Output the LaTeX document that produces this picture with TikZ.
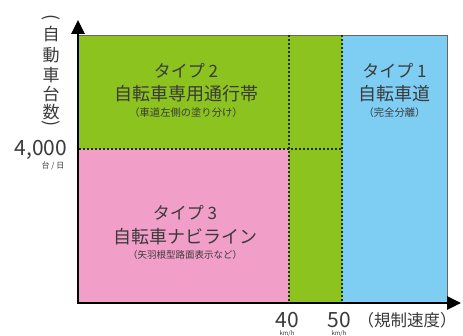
\documentclass[tikz,border=0pt]{standalone}
\usepackage{fontspec}
\setmainfont{Noto Sans CJK JP}
\usetikzlibrary{arrows.meta}
\definecolor{tgreen}{HTML}{8CC31E}
\definecolor{tpink}{HTML}{F19EC9}
\definecolor{tblue}{HTML}{7ECEF4}
\definecolor{txt}{HTML}{3A3A3A}
\definecolor{dotc}{HTML}{1E330A}
\tikzset{
  divider/.style={dotc, line width=1.6pt, dash pattern=on 2pt off 2pt},
  axisline/.style={black, line width=2.6pt, -{Triangle[length=14pt,width=13pt]}},
  lbl/.style={inner sep=0pt, text=txt},
  fs/.style={font=\fontsize{#1}{#1}\selectfont}
}
\begin{document}
\begin{tikzpicture}[x=1pt,y=-1pt]
\useasboundingbox (0,0) rectangle (463,336);
\fill[white] (0,0) rectangle (463,336);
% regions
\fill[tgreen] (79,35) rectangle (342,149);
\fill[tgreen] (289,149) rectangle (342,302);
\fill[tpink] (79,149) rectangle (289,302);
\fill[tblue] (342,35) rectangle (447,302);
\draw[gray!80!black, line width=0.6pt] (79,35) -- (447,35) -- (447,302);
% dividers
\coordinate (d1t) at (289,35); \coordinate (d1b) at (289,302);
\coordinate (d2t) at (342,35); \coordinate (d2b) at (342,302);
\coordinate (hl) at (79,149); \coordinate (hr) at (342,149);
\draw[divider] (d1t) -- (d1b);
\draw[divider] (d2t) -- (d2b);
\draw[divider] (hl) -- (hr);
% axes
\coordinate (o) at (78,303);
\coordinate (ytip) at (78,20);
\coordinate (xtip) at (461,303);
\draw[axisline] (o) -- (ytip);
\draw[axisline] ([xshift=-1.3pt]o) -- (xtip);
% y label (vertical)
\node[lbl, fs=18, rotate=-90] (yp1) at (51,18) {(};
\node[lbl, fs=17] (yc1) at (51,34) {自};
\node[lbl, fs=17] (yc2) at (51,55) {動};
\node[lbl, fs=17] (yc3) at (51,75) {車};
\node[lbl, fs=17] (yc4) at (51,94) {台};
\node[lbl, fs=17] (yc5) at (51,112) {数};
\node[lbl, fs=18, rotate=-90] (yp2) at (51,124) {)};
\node[lbl, fs=21] (y4000) at (41,150) {4,000};
\node[lbl, fs=8] (yunit) at (53,166) {台 / 日};
% type 2
\node[lbl, fs=17] (t2a) at (186,71) {タイプ 2};
\node[lbl, fs=18] (t2b) at (186,94) {自転車専用通行帯};
\node[lbl, fs=10.3] (t2c) at (186,112.5) {（車道左側の塗り分け）};
% type 1
\node[lbl, fs=17] (t1a) at (394.5,71) {タイプ 1};
\node[lbl, fs=18] (t1b) at (394.5,94) {自転車道};
\node[lbl, fs=10.3] (t1c) at (394.5,112.5) {（完全分離）};
% type 3
\node[lbl, fs=17] (t3a) at (185,213) {タイプ 3};
\node[lbl, fs=18] (t3b) at (185,237) {自転車ナビライン};
\node[lbl, fs=9.5] (t3c) at (185,255) {（矢羽根型路面表示など）};
% x labels
\node[lbl, fs=21] (x40) at (287,320) {40};
\node[lbl, fs=21] (x50) at (339,320) {50};
\node[lbl, fs=6] (k40) at (287,333.3) {km/h};
\node[lbl, fs=6] (k50) at (339,333.3) {km/h};
\node[lbl, fs=16.5] (xlab) at (407,320) {（規制速度）};
\end{tikzpicture}
\end{document}
